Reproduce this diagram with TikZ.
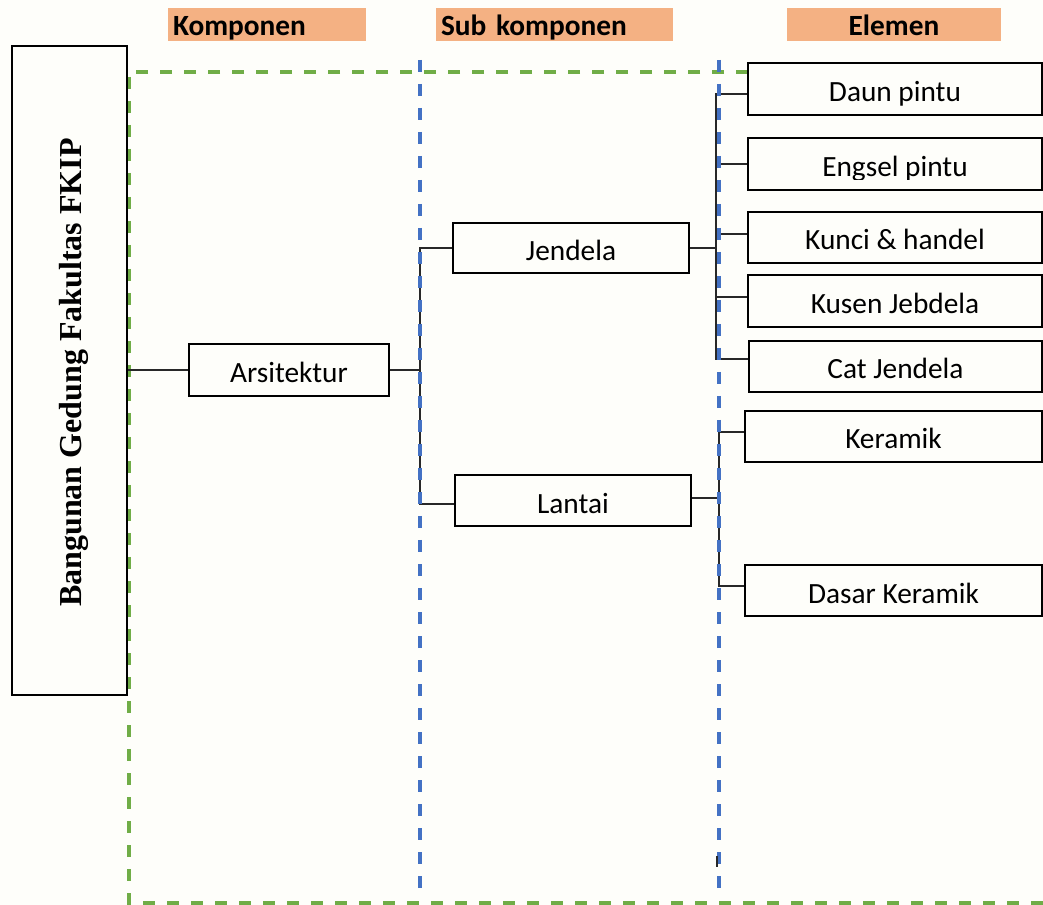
\documentclass[tikz,border=0pt]{standalone}
\usepackage{fontspec}
\setmainfont{Carlito}
\newfontfamily\titlefont{Liberation Serif}
\definecolor{paper}{RGB}{254,254,250}
\definecolor{hdrorange}{RGB}{244,177,131}
\definecolor{guidegreen}{RGB}{112,173,71}
\definecolor{guideblue}{RGB}{68,114,196}
\definecolor{wirecol}{RGB}{40,40,40}
\begin{document}
\begin{tikzpicture}[x=0.75pt,y=-0.75pt,
  box/.style={draw=black, line width=1.3pt, fill=paper, inner sep=0pt,
    minimum height=38.5pt, text height=18.75pt, text depth=0pt,
    font=\fontsize{22}{26}\selectfont},
  elbox/.style={box, minimum width=220.5pt},
  hdr/.style={fill=hdrorange, inner xsep=3.75pt, inner ysep=0pt,
    minimum height=24.75pt, text height=17.25pt, text depth=0pt,
    font=\bfseries\fontsize{22}{26}\selectfont},
  wire/.style={draw=wirecol, line width=1pt},
  greendash/.style={draw=guidegreen, line width=2.5pt, dash pattern=on 9pt off 9pt},
  bluedash/.style={draw=guideblue, line width=3pt, dash pattern=on 9pt off 9pt},
]
% canvas
\fill[paper] (0,0) rectangle (1043,905);
\useasboundingbox (0,0) rectangle (1043,905);

% column headers
\node[hdr, text width=141pt, align=left] (hkomp) at (267,24.5) {Komponen};
\node[hdr, text width=170.25pt, align=left] (hsub) at (554.5,24.5) {Sub komponen};
\node[hdr, text width=153pt, align=center] (hel) at (894,24.5) {Elemen};

% green dashed frame around the breakdown
\coordinate (gTR) at (748,72);
\coordinate (gTL) at (129,72);
\coordinate (gBL) at (129,903);
\coordinate (gBR) at (1043,903);
\draw[greendash] (gTR) -- (gTL) -- (gBL) -- (gBR);

% building box with vertical title
\node[draw=black, line width=2pt, fill=paper, inner sep=0pt,
  minimum width=86.25pt, minimum height=486.75pt] (bldg) at (69.5,370.5) {};
\node[rotate=90, anchor=base, inner sep=0pt,
  font=\titlefont\bfseries\fontsize{24}{28}\selectfont] (bldgtxt) at (81,372.5)
  {Bangunan Gedung Fakultas FKIP};

% component and sub components
\node[box, minimum width=150pt] (ars) at (289,370) {Arsitektur};
\node[box, minimum width=177pt, minimum height=37.5pt] (jen) at (571,248) {Jendela};
\node[box, minimum width=177pt] (lan) at (573,500.5) {Lantai};

% elements
\node[elbox] (daun) at (895,89) {Daun pintu};
\node[elbox] (engsel) at (895,164) {};
\begin{scope}
  \clip (engsel.north west) rectangle ([yshift=8.5pt]engsel.south east);
  \node[box, draw=none, fill=none, minimum width=220.5pt] (engseltxt) at (engsel.center) {Engsel pintu};
\end{scope}
\node[elbox] (kunci) at (895,237.5) {Kunci \& handel};
\node[elbox] (kusen) at (895,301) {Kusen Jebdela};
\node[elbox, minimum width=219.75pt] (cat) at (895.5,366.5) {Cat Jendela};
\node[elbox, minimum width=222.75pt] (keramik) at (893.5,436.5) {Keramik};
\node[elbox, minimum width=222.75pt] (dasar) at (893.5,590.5) {Dasar Keramik};

% bus lines
\coordinate (busA) at (420,0);
\coordinate (busB) at (716,0);
\coordinate (busC) at (719,0);

% tick points on the boxes
\coordinate (lanW) at ([yshift=-2.6pt]lan.west);
\coordinate (lanE) at ([yshift=1.9pt]lan.east);
\coordinate (daunT) at ([yshift=-3.75pt]daun.west);
\coordinate (engT) at (engsel.west);
\coordinate (kunT) at ([yshift=2.6pt]kunci.west);
\coordinate (kusT) at ([yshift=3pt]kusen.west);
\coordinate (catT) at ([yshift=5.6pt]cat.west);
\coordinate (kerT) at ([yshift=3.4pt]keramik.west);
\coordinate (dasT) at ([yshift=3.4pt]dasar.west);

% connectors
\draw[wire] (bldg.east |- ars.west) -- (ars.west);
\draw[wire] (ars.east) -- (ars.east -| busA);
\draw[wire] (jen.west) -- (jen.west -| busA) -- (lanW -| busA) -- (lanW);

\draw[wire] (jen.east) -- (jen.east -| busB);
\draw[wire] (daunT) -- (daunT -| busB) -- (catT -| busB) -- (catT);
\draw[wire] (engT -| busB) -- (engT);
\draw[wire] (kunT -| busB) -- (kunT);
\draw[wire] (kusT -| busB) -- (kusT);

\draw[wire] (lanE) -- (lanE -| busC);
\draw[wire] (kerT) -- (kerT -| busC) -- (dasT -| busC) -- (dasT);

% blue dashed column separators
\coordinate (bAt) at (420,60);
\coordinate (bAb) at (420,895);
\coordinate (bBt) at (719,60);
\coordinate (bBb) at (719,895);
\draw[bluedash] (bAt) -- (bAb);
\draw[bluedash] (bBt) -- (bBb);

% short stub near the bottom of the right separator
\coordinate (stubT) at (717,856);
\coordinate (stubB) at (717,867);
\draw[wire] (stubT) -- (stubB);
\end{tikzpicture}
\end{document}
